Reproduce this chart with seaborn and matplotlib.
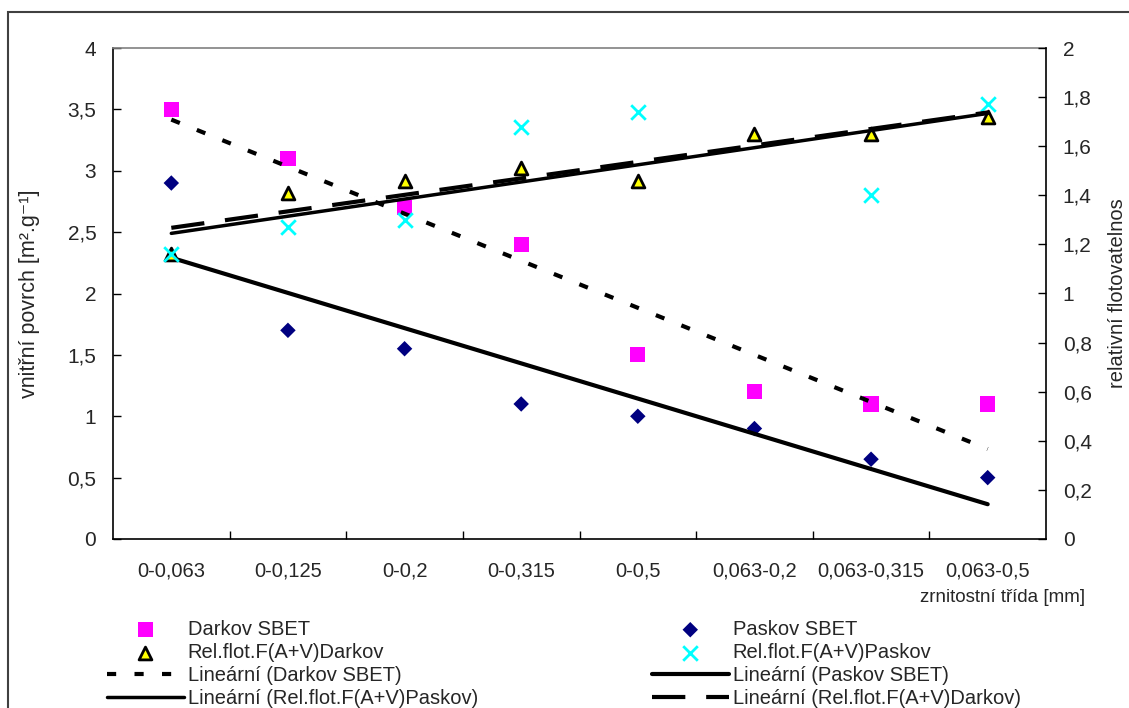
import numpy as np
import pandas as pd
import seaborn as sns
import matplotlib.pyplot as plt
from matplotlib.ticker import FuncFormatter, MultipleLocator
from matplotlib.patches import Rectangle

categories = ["0-0,063", "0-0,125", "0-0,2", "0-0,315", "0-0,5",
              "0,063-0,2", "0,063-0,315", "0,063-0,5"]
darkov_sbet = [3.5, 3.1, 2.7, 2.4, 1.5, 1.2, 1.1, 1.1]
paskov_sbet = [2.9, 1.7, 1.55, 1.1, 1.0, 0.9, 0.65, 0.5]
relflot_darkov = [1.16, 1.41, 1.46, 1.51, 1.46, 1.65, 1.65, 1.72]
relflot_paskov = [1.16, 1.27, 1.30, 1.68, 1.74, np.nan, 1.40, 1.77]

sns.set_style("white")
plt.rcParams["font.family"] = ["Liberation Sans", "DejaVu Sans"]

df = pd.DataFrame({
    "pos": np.arange(len(categories)),
    "darkov_sbet": darkov_sbet,
    "paskov_sbet": paskov_sbet,
    "relflot_darkov": relflot_darkov,
    "relflot_paskov": relflot_paskov,
})

W, H = 1129, 708
fig = plt.figure(figsize=(W / 100, H / 100), dpi=100)
ax = fig.add_axes([113 / W, 1 - 539 / H, (1046 - 113) / W, (539 - 48) / H])
ax2 = ax.twinx()

# left axis: specific surface
sns.scatterplot(data=df, x="pos", y="darkov_sbet", marker="s", s=120,
                color="#FF00FF", edgecolor="none", label="Darkov SBET", ax=ax)
sns.scatterplot(data=df, x="pos", y="paskov_sbet", marker="D", s=62,
                color="#000080", edgecolor="none", label="Paskov SBET", ax=ax)
sns.regplot(data=df, x="pos", y="darkov_sbet", scatter=False, ci=None, ax=ax,
            label="Lineární (Darkov SBET)",
            line_kws=dict(color="black", lw=3, ls=(0, (2.2, 4.4)),
                          dash_capstyle="butt"))
sns.regplot(data=df, x="pos", y="paskov_sbet", scatter=False, ci=None, ax=ax,
            label="Lineární (Paskov SBET)",
            line_kws=dict(color="black", lw=3, solid_capstyle="round"))

# right axis: relative floatability
sns.scatterplot(data=df, x="pos", y="relflot_darkov", marker="^", s=85,
                color="#FFFF00", edgecolor="black", linewidth=2,
                label="Rel.flot.F(A+V)Darkov", ax=ax2)
sns.scatterplot(data=df, x="pos", y="relflot_paskov", marker="x", s=110,
                color="#00FFFF", linewidth=2,
                label="Rel.flot.F(A+V)Paskov", ax=ax2)
sns.regplot(data=df, x="pos", y="relflot_paskov", scatter=False, ci=None, ax=ax2,
            label="Lineární (Rel.flot.F(A+V)Paskov)",
            line_kws=dict(color="black", lw=2.5))
sns.regplot(data=df, x="pos", y="relflot_darkov", scatter=False, ci=None, ax=ax2,
            label="Lineární (Rel.flot.F(A+V)Darkov)",
            line_kws=dict(color="black", lw=3, ls=(0, (8, 5)),
                          dash_capstyle="butt"))

comma = FuncFormatter(lambda v, p: f"{v:g}".replace(".", ","))

ax.set_xlim(-0.5, len(categories) - 0.5)
ax.set_ylim(0, 4)
ax2.set_ylim(0, 2)
ax.yaxis.set_major_locator(MultipleLocator(0.5))
ax2.yaxis.set_major_locator(MultipleLocator(0.2))
ax.yaxis.set_major_formatter(comma)
ax2.yaxis.set_major_formatter(comma)

ax.set_xticks(df["pos"])
ax.set_xticklabels(categories)
ax.set_xticks(np.arange(0.5, len(categories) - 1, 1), minor=True)
ax.tick_params(axis="x", which="major", length=0, pad=16, labelsize=14.5)
ax.tick_params(axis="x", which="minor", bottom=True, direction="in",
               length=6, width=1, color="black")
ax.tick_params(axis="y", left=True, direction="in", length=6, width=1,
               color="black", pad=12, labelsize=15)
ax2.tick_params(axis="y", right=True, direction="in", length=6, width=1,
                color="black", pad=12, labelsize=15)

for name, sp in ax.spines.items():
    sp.set_color("black")
    sp.set_linewidth(1.2)
ax.spines["top"].set_color("#808080")
ax.spines["right"].set_visible(False)
for name in ["left", "bottom", "top"]:
    ax2.spines[name].set_visible(False)
ax2.spines["right"].set_color("black")
ax2.spines["right"].set_linewidth(1.2)

ax.set_xlabel("")
ax.set_ylabel("vnitřní povrch [m².g⁻¹]", fontsize=15.5, labelpad=20)
ax2.set_ylabel("relativní flotovatelnos", fontsize=14.5, labelpad=12)
fig.text(1085 / W, 1 - 597 / H, "zrnitostní třída [mm]", ha="right",
         va="center", fontsize=13.5)

# legend in two columns below the plot
handles = {}
for a in (ax, ax2):
    for h, l in zip(*a.get_legend_handles_labels()):
        handles[l] = h
    if a.get_legend() is not None:
        a.get_legend().remove()

col1 = ["Darkov SBET", "Rel.flot.F(A+V)Darkov", "Lineární (Darkov SBET)",
        "Lineární (Rel.flot.F(A+V)Paskov)"]
col2 = ["Paskov SBET", "Rel.flot.F(A+V)Paskov", "Lineární (Paskov SBET)",
        "Lineární (Rel.flot.F(A+V)Darkov)"]
leg_kw = dict(loc="upper left", frameon=False, fontsize=14.5, handlelength=3.8,
              handletextpad=0.2, labelspacing=0.2, borderpad=0,
              borderaxespad=0)
fig.legend([handles[l] for l in col1], col1,
           bbox_to_anchor=(107 / W, 1 - 620 / H), **leg_kw)
fig.legend([handles[l] for l in col2], col2,
           bbox_to_anchor=(652 / W, 1 - 620 / H), **leg_kw)

# chart area border
fig.add_artist(Rectangle((8 / W, -0.05), 1.1, 1 - 12 / H + 0.05,
                         transform=fig.transFigure, fill=False,
                         ec="#404040", lw=1.5))

fig.savefig("out.png", dpi=100)
